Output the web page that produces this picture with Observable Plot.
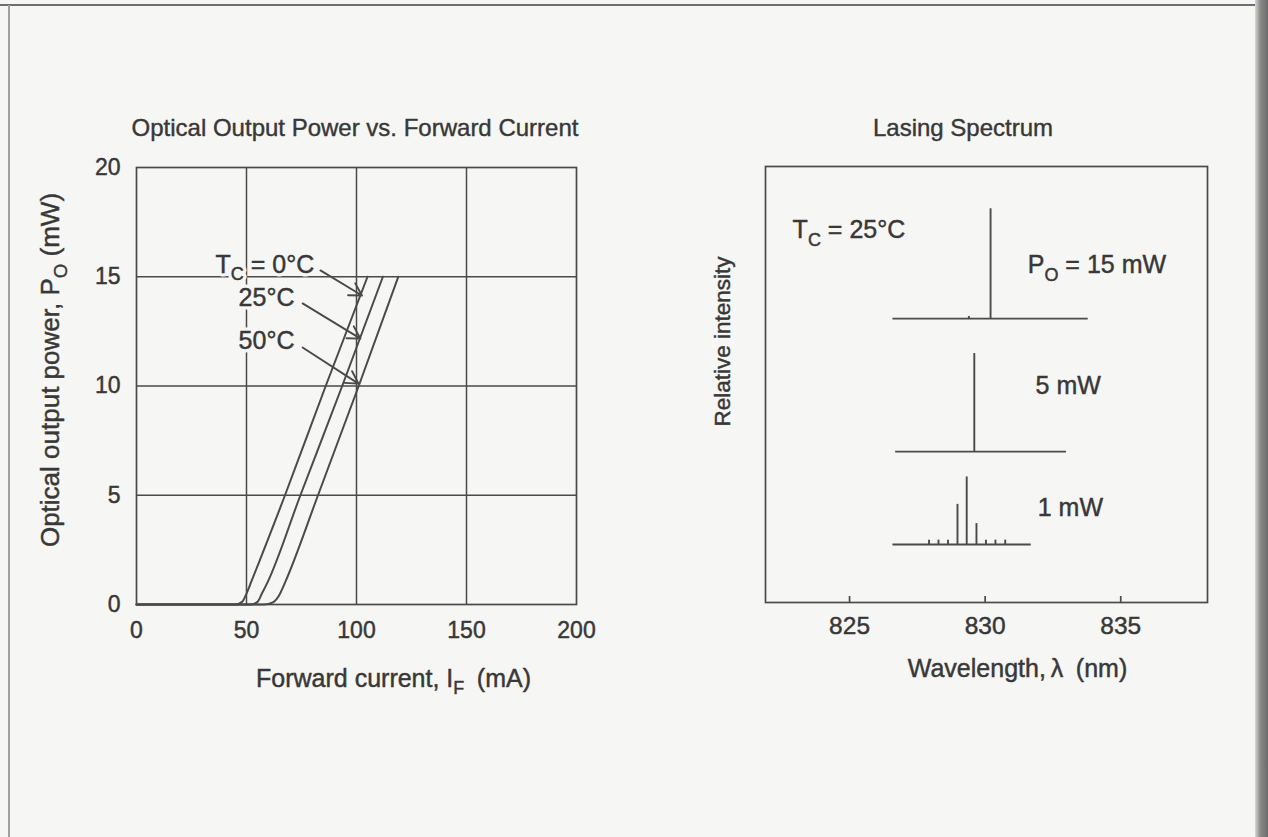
<!DOCTYPE html>
<html>
<head>
<meta charset="utf-8">
<script src="https://cdn.jsdelivr.net/npm/d3@7"></script>
<script src="https://cdn.jsdelivr.net/npm/@observablehq/plot@0.6"></script>
<style>
  html, body { margin: 0; padding: 0; }
  body { width: 1268px; height: 837px; position: relative; overflow: hidden;
         background: #f6f6f4; font-family: "Liberation Sans", Arial, sans-serif; color: #3a3a3a; }
  .title { position: absolute; top: 116px; font-size: 24px; line-height: 24px; white-space: nowrap;
           transform: translateX(-50%); color: #383838; -webkit-text-stroke: 0.4px #383838; }
  #leftChart { position: absolute; left: 0; top: 140px; }
  #rightChart { position: absolute; left: 680px; top: 140px; }
  .edgeTop { position: absolute; left: 0; top: 4px; width: 1268px; height: 2px; background: #6e6e6e; }
  .edgeLeft { position: absolute; left: 8px; top: 5px; width: 1.5px; height: 832px; background: #a0a0a0; }
  .edgeRight { position: absolute; left: 1255px; top: 0; width: 13px; height: 837px;
               background: linear-gradient(to right, #d8d8d8, #8a8a8a 40%, #6a6a6a); }
</style>
</head>
<body>
<div class="edgeTop"></div>
<div class="edgeLeft"></div>
<div class="edgeRight"></div>
<div class="title" style="left:355px">Optical Output Power vs. Forward Current</div>
<div class="title" style="left:963px">Lasing Spectrum</div>
<div id="leftChart"></div>
<div id="rightChart"></div>
<script>
// ---------- Data: Optical output power vs forward current ----------
const currentTicks = [0, 50, 100, 150, 200];          // mA
const powerTicks = [0, 5, 10, 15, 20];                // mW
const temps = ["0°C", "25°C", "50°C"];
const current_0C  = [0, 45, 48, 50, 52, 67.5, 86, 105];
const power_0C    = [0, 0, 0.12, 0.5, 1.0, 5, 10, 15];
const current_25C = [0, 52, 55, 57, 59.5, 74.5, 93.5, 112];
const power_25C   = [0, 0, 0.12, 0.5, 1.0, 5, 10, 15];
const current_50C = [0, 58, 62, 65, 67.5, 82.5, 101, 119];
const power_50C   = [0, 0, 0.1, 0.45, 1.0, 5, 10, 15];
// annotation labels (anchor in data coords) and leader arrows
const tempLabels   = ["T{C} = 0°C", "25°C", "50°C"];
const tempLabelI   = [35.9, 46.4, 46.4];
const tempLabelP   = [15.54, 14.03, 12.06];
const arrowFromI   = [83.6, 75.5, 75.5];
const arrowFromP   = [15.29, 13.78, 11.76];
const arrowToI     = [102.5, 101.8, 100.9];
const arrowToP     = [14.14, 12.17, 10.11];

// ---------- Data: Lasing spectrum ----------
const wavelengthTicks = [825, 830, 835];              // nm
const spectrumPowers  = ["P{O} = 15 mW", "5 mW", "1 mW"];
const spectrumOffset  = [65.1, 34.6, 13.3];           // vertical offset of each trace (relative intensity units)
const spectrumFrom    = [826.6, 826.7, 826.6];        // nm, baseline start
const spectrumTo      = [833.8, 833.0, 831.7];        // nm, baseline end
const modes15_wl  = [829.4, 830.2];
const modes15_int = [0.5, 25.2];
const modes5_wl   = [829.6];
const modes5_int  = [22.5];
const modes1_wl   = [827.93, 828.28, 828.63, 828.98, 829.32, 829.68, 830.03, 830.38, 830.74];
const modes1_int  = [1.0, 1.0, 1.0, 9.2, 15.5, 4.8, 1.0, 1.0, 1.0];
const spectrumLabelWl  = [831.57, 831.86, 831.94];
const spectrumLabelInt = [77.4, 49.7, 21.7];
const condLabel = "T{C} = 25°C";
const condLabelWl = 822.9, condLabelInt = 85.4;

// ---------- Build tables ----------
const ink = "#4a4a4a";
const txt = "#383838";
const bg = "#f6f6f4";
const font = "'Liberation Sans', Arial, sans-serif";

const liRows = [];
[[current_0C, power_0C], [current_25C, power_25C], [current_50C, power_50C]].forEach(([c, p], k) => {
  c.forEach((v, i) => liRows.push({temp: temps[k], current: v, power: p[i]}));
});
const labelRows = tempLabels.map((t, i) => ({text: t, x: tempLabelI[i], y: tempLabelP[i]}));
const arrowRows = arrowFromI.map((v, i) => ({x1: v, y1: arrowFromP[i], x2: arrowToI[i], y2: arrowToP[i]}));

const baseRows = spectrumOffset.map((o, i) => ({base: o, from: spectrumFrom[i], to: spectrumTo[i]}));
const modeRows = [];
[[modes15_wl, modes15_int], [modes5_wl, modes5_int], [modes1_wl, modes1_int]].forEach(([w, h], k) => {
  w.forEach((v, i) => modeRows.push({wl: v, base: spectrumOffset[k], top: spectrumOffset[k] + h[i]}));
});
const specLabelRows = spectrumPowers.map((t, i) => ({text: t, x: spectrumLabelWl[i], y: spectrumLabelInt[i]}));
specLabelRows.push({text: condLabel, x: condLabelWl, y: condLabelInt});

// ---------- Left chart ----------
const leftPlot = Plot.plot({
  width: 620, height: 560,
  marginLeft: 136, marginRight: 44, marginTop: 27, marginBottom: 96,
  x: {domain: [0, 200]},
  y: {domain: [0, 20]},
  style: {fontFamily: font, fontSize: "22px", color: txt, background: "transparent", overflow: "visible"},
  marks: [
    Plot.gridX(currentTicks.slice(1, -1), {stroke: ink, strokeOpacity: 1, strokeWidth: 1.5}),
    Plot.gridY(powerTicks.slice(1, -1), {stroke: ink, strokeOpacity: 1, strokeWidth: 1.5}),
    Plot.frame({stroke: ink, strokeWidth: 1.7}),
    Plot.axisX({ticks: currentTicks, tickSize: 0, tickPadding: 17, fontSize: 23, label: null, tickFormat: d => String(d)}),
    Plot.axisY({ticks: powerTicks, tickSize: 0, tickPadding: 16, fontSize: 23, label: null, tickFormat: d => String(d)}),
    Plot.line(liRows, {x: "current", y: "power", z: "temp", curve: "monotone-x", stroke: ink, strokeWidth: 2}),
    // halo under the annotation labels (knocks out the grid, as in the original)
    Plot.text(labelRows, {x: "x", y: "y", text: "text", textAnchor: "start", lineAnchor: "middle",
      fontSize: 25, fill: bg, stroke: bg, strokeWidth: 7}),
    Plot.text(labelRows, {x: "x", y: "y", text: "text", textAnchor: "start", lineAnchor: "middle",
      fontSize: 25, fill: txt}),
    Plot.arrow(arrowRows, {x1: "x1", y1: "y1", x2: "x2", y2: "y2", stroke: ink, strokeWidth: 1.9, headLength: 11}),
    Plot.text(["Optical output power, P{O} (mW)"], {frameAnchor: "left", rotate: -90, dx: -86, dy: -16,
      textAnchor: "middle", lineAnchor: "middle", fontSize: 26, fill: txt}),
    Plot.text(["Forward current, I{F}\u2002(mA)"], {frameAnchor: "bottom", dx: 37, dy: 74,
      textAnchor: "middle", lineAnchor: "middle", fontSize: 25, fill: txt})
  ]
});
document.getElementById("leftChart").appendChild(leftPlot);

// ---------- Right chart ----------
const rightPlot = Plot.plot({
  width: 560, height: 560,
  marginLeft: 85, marginRight: 33, marginTop: 26, marginBottom: 98,
  x: {domain: [821.9, 838.2]},
  y: {domain: [0, 100], axis: null},
  style: {fontFamily: font, fontSize: "24px", color: txt, background: "transparent", overflow: "visible"},
  marks: [
    Plot.frame({stroke: ink, strokeWidth: 1.7}),
    Plot.axisX({ticks: wavelengthTicks, tickSize: -6, tickPadding: 20, fontSize: 24.5, label: null,
      stroke: ink, strokeWidth: 1.7, tickFormat: d => String(d)}),
    Plot.ruleY(baseRows, {y: "base", x1: "from", x2: "to", stroke: ink, strokeWidth: 1.9}),
    Plot.ruleX(modeRows, {x: "wl", y1: "base", y2: "top", stroke: ink, strokeWidth: 1.9}),
    Plot.text(specLabelRows, {x: "x", y: "y", text: "text", textAnchor: "start", lineAnchor: "middle",
      fontSize: 25, fill: txt}),
    Plot.text(["Relative intensity"], {frameAnchor: "left", rotate: -90, dx: -43, dy: -43,
      textAnchor: "middle", lineAnchor: "middle", fontSize: 22.5, fill: txt}),
    Plot.text(["Wavelength,\u2009λ\u2002(nm)"], {frameAnchor: "bottom", dx: 31, dy: 66,
      textAnchor: "middle", lineAnchor: "middle", fontSize: 25, fill: txt})
  ]
});
document.getElementById("rightChart").appendChild(rightPlot);

// ---------- Subscripts: turn "X{s}" into X with a subscript tspan; thicken printed text ----------
function finishText(root) {
  const ns = "http://www.w3.org/2000/svg";
  root.querySelectorAll("text").forEach(t => {
    const g = t.closest("g");
    const isHalo = g && g.getAttribute("stroke") === bg;
    if (!isHalo) {
      t.setAttribute("stroke", txt);
      t.setAttribute("stroke-width", "0.45");
    }
    const s = t.textContent;
    if (!s.includes("{")) return;
    const base = parseFloat(getComputedStyle(t).fontSize) || 24;
    const shift = base * 0.3;
    while (t.firstChild) t.removeChild(t.firstChild);
    const parts = s.split(/(\{[^}]*\})/).filter(p => p.length);
    let pending = 0;
    parts.forEach(p => {
      const ts = document.createElementNS(ns, "tspan");
      if (p.startsWith("{")) {
        ts.textContent = p.slice(1, -1);
        ts.setAttribute("font-size", (base * 0.72).toFixed(1));
        ts.setAttribute("dy", shift.toFixed(1));
        pending = -shift;
      } else {
        ts.textContent = p;
        if (pending) ts.setAttribute("dy", pending.toFixed(1));
        pending = 0;
      }
      t.appendChild(ts);
    });
  });
}
finishText(leftPlot);
finishText(rightPlot);
</script>
</body>
</html>
